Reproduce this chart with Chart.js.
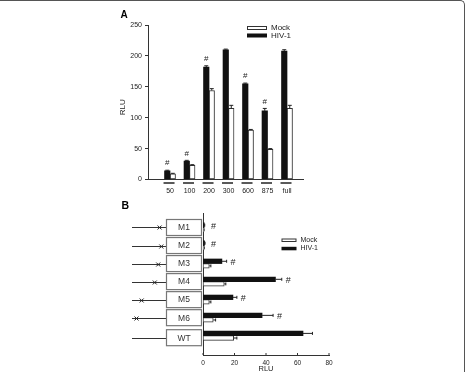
<!DOCTYPE html>
<html><head><meta charset="utf-8">
<script src="https://cdn.jsdelivr.net/npm/chart.js@4/dist/chart.umd.min.js"></script>
<style>
html,body{margin:0;padding:0;background:#fff;}
#wrap{position:relative;width:466px;height:372px;overflow:hidden;background:#fff;}
canvas{position:absolute;left:0;top:0;}
#frame{position:absolute;left:-10px;top:0;right:1px;height:400px;border-top:1.5px solid #555;border-right:1.5px solid #555;border-top-right-radius:5px;}
</style></head><body>
<div id="wrap"><canvas id="a" width="466" height="372"></canvas><canvas id="b" width="466" height="372"></canvas><div id="frame"></div></div>
<script>
// ---- Panel A data ----
const doseLabels = ['50', '100', '200', '300', '600', '875', 'full'];
const hivA = [14, 30, 182, 210, 155, 111, 208];
const hivErrA = [1, 1, 2, 1, 1, 4, 2];
const mockA = [9, 23, 144, 115, 80, 49, 115];
const mockErrA = [1, 1, 3, 5, 1, 1, 5];
const sigA = ['#', '#', '#', '', '#', '#', ''];
const yTicksA = [0, 50, 100, 150, 200, 250];

// ---- Panel B data ----
const constructs = ['M1', 'M2', 'M3', 'M4', 'M5', 'M6', 'WT'];
const hivB = [0.8, 1, 12, 46, 19, 37.5, 63.5];
const hivErrB = [0.3, 0.3, 3, 4, 2.5, 7, 6];
const mockB = [0.5, 0.6, 4, 13.5, 4, 6.5, 19.5];
const mockErrB = [0.2, 0.2, 1, 1, 1, 1.5, 2];
const sigB = ['#', '#', '#', '#', '#', '#', ''];
const mutationSite = [0.8, 0.85, 0.76, 0.66, 0.28, 0.13, null]; // fraction along upstream line
const xTicksB = [0, 20, 40, 60, 80];
const seriesNames = ['HIV-1', 'Mock'];

const FONT = "'Liberation Sans', Arial, Helvetica, sans-serif";
const INK = '#111';
const TXT = '#222';

function legend(ctx, x, y, w, h, gap, size) {
  ctx.font = size + 'px ' + FONT;
  ctx.textBaseline = 'middle';
  ctx.textAlign = 'left';
  // Mock (white)
  ctx.fillStyle = '#fff'; ctx.strokeStyle = '#333'; ctx.lineWidth = 1;
  ctx.fillRect(x, y, w, h); ctx.strokeRect(x + 0.5, y + 0.5, w - 1, h - 1);
  ctx.fillStyle = TXT; ctx.fillText(seriesNames[1], x + w + 4, y + h / 2);
  // HIV-1 (black)
  ctx.fillStyle = INK; ctx.fillRect(x, y + gap, w, h);
  ctx.fillStyle = TXT; ctx.fillText(seriesNames[0], x + w + 4, y + gap + h / 2);
}

const annotA = {
  id: 'annotA',
  afterDatasetsDraw(chart) {
    const {ctx, scales: {x, y}, chartArea: ca} = chart;
    const mH = chart.getDatasetMeta(0), mM = chart.getDatasetMeta(1);
    ctx.save();
    ctx.strokeStyle = '#222'; ctx.lineWidth = 1;
    const vErr = (bx, v, e) => {
      const y0 = y.getPixelForValue(v), y1 = y.getPixelForValue(v + e);
      ctx.beginPath();
      ctx.moveTo(bx, y0); ctx.lineTo(bx, y1);
      ctx.moveTo(bx - 2, y1); ctx.lineTo(bx + 2, y1);
      ctx.stroke();
    };
    hivA.forEach((v, i) => vErr(mH.data[i].x, v, hivErrA[i]));
    mockA.forEach((v, i) => vErr(mM.data[i].x, v, mockErrA[i]));
    // group underline dashes
    ctx.lineWidth = 1.5; ctx.strokeStyle = '#222';
    doseLabels.forEach((_, i) => {
      const cx = x.getPixelForValue(i) - 1;
      ctx.beginPath(); ctx.moveTo(cx - 5.5, ca.bottom + 3.5); ctx.lineTo(cx + 5.5, ca.bottom + 3.5); ctx.stroke();
    });
    // significance marks
    ctx.fillStyle = TXT; ctx.font = '8px ' + FONT; ctx.textAlign = 'center'; ctx.textBaseline = 'middle';
    sigA.forEach((s, i) => {
      if (!s) return;
      ctx.fillText(s, mH.data[i].x, y.getPixelForValue(hivA[i] + hivErrA[i]) - 7);
    });
    // legend
    legend(ctx, ca.left + 99, ca.top + 1, 20, 4, 7.5, 8);
    // axis title
    ctx.save();
    ctx.translate(ca.left - 25.5, (ca.top + ca.bottom) / 2 + 5);
    ctx.rotate(-Math.PI / 2);
    ctx.fillStyle = TXT; ctx.font = '8px ' + FONT; ctx.textAlign = 'center'; ctx.textBaseline = 'middle';
    ctx.fillText('RLU', 0, 0);
    ctx.restore();
    // panel label
    ctx.fillStyle = '#000'; ctx.font = 'bold 10px ' + FONT; ctx.textAlign = 'left'; ctx.textBaseline = 'alphabetic';
    ctx.fillText('A', ca.left - 27.5, ca.top - 7.5);
    ctx.restore();
  }
};

new Chart(document.getElementById('a'), {
  type: 'bar',
  data: {
    datasets: [
      {label: seriesNames[0], data: hivA.map((v, i) => ({x: i, y: v})), backgroundColor: INK, borderWidth: 0, barThickness: 5.5},
      {label: seriesNames[1], data: mockA.map((v, i) => ({x: i, y: v})), backgroundColor: '#fff', borderColor: '#333', borderWidth: 1, borderSkipped: false, barThickness: 5.5}
    ]
  },
  options: {
    responsive: false, animation: false, devicePixelRatio: 1,
    layout: {padding: {left: 100, right: 163, top: 25, bottom: 172.5}},
    plugins: {legend: {display: false}, tooltip: {enabled: false}},
    scales: {
      x: {
        type: 'linear', offset: false, min: -1.13, max: 6.82,
        afterBuildTicks: s => { s.ticks = doseLabels.map((_, i) => ({value: i})); },
        afterFit: s => { s.height = 20; },
        grid: {display: false, drawTicks: false},
        border: {display: true, color: '#333', width: 1},
        ticks: {callback: v => doseLabels[v], font: {family: FONT, size: 7}, color: TXT, padding: 7, maxRotation: 0, autoSkip: false}
      },
      y: {
        min: 0, max: 250,
        afterBuildTicks: s => { s.ticks = yTicksA.map(v => ({value: v})); },
        afterFit: s => { s.width = 48; },
        grid: {drawOnChartArea: false, color: '#333', tickLength: 3},
        border: {display: true, color: '#333', width: 1},
        ticks: {font: {family: FONT, size: 7}, color: TXT, padding: 3}
      }
    }
  },
  plugins: [annotA]
});

const annotB = {
  id: 'annotB',
  afterDatasetsDraw(chart) {
    const {ctx, scales: {x, y}, chartArea: ca} = chart;
    const mH = chart.getDatasetMeta(0), mM = chart.getDatasetMeta(1);
    ctx.save();
    ctx.strokeStyle = '#222'; ctx.lineWidth = 1;
    const hErr = (by, v, e) => {
      const x0 = x.getPixelForValue(v), x1 = x.getPixelForValue(v + e);
      ctx.beginPath();
      ctx.moveTo(x0, by); ctx.lineTo(x1, by);
      ctx.moveTo(x1, by - 1.5); ctx.lineTo(x1, by + 1.5);
      ctx.stroke();
    };
    hivB.forEach((v, i) => hErr(mH.data[i].y, v, hivErrB[i]));
    mockB.forEach((v, i) => hErr(mM.data[i].y, v, mockErrB[i]));
    // inward x ticks
    ctx.strokeStyle = '#333';
    xTicksB.forEach(t => {
      const px = x.getPixelForValue(t);
      ctx.beginPath(); ctx.moveTo(px, ca.bottom); ctx.lineTo(px, ca.bottom - 2); ctx.stroke();
    });
    // significance marks
    ctx.fillStyle = TXT; ctx.font = '9px ' + FONT; ctx.textAlign = 'center'; ctx.textBaseline = 'middle';
    sigB.forEach((s, i) => {
      if (!s) return;
      const xe = Math.max(x.getPixelForValue(hivB[i] + hivErrB[i]), ca.left + 4);
      ctx.fillText(s, xe + 6.5, mH.data[i].y + 1);
    });
    // construct diagrams
    constructs.forEach((name, i) => {
      const cy = y.getPixelForValue(i) + (i === constructs.length - 1 ? 2 : 0);
      const bx0 = ca.left - 36.5, bx1 = ca.left - 1.5;
      const lx0 = ca.left - 71;
      ctx.strokeStyle = '#333'; ctx.lineWidth = 1;
      ctx.beginPath(); ctx.moveTo(lx0, Math.round(cy) + 0.5); ctx.lineTo(bx0, Math.round(cy) + 0.5); ctx.stroke();
      ctx.fillStyle = '#fff'; ctx.strokeStyle = '#777'; ctx.lineWidth = 1.2;
      ctx.fillRect(bx0, cy - 8, bx1 - bx0, 16);
      ctx.strokeRect(bx0, cy - 8, bx1 - bx0, 16);
      ctx.fillStyle = '#333'; ctx.font = '8.5px ' + FONT; ctx.textAlign = 'center'; ctx.textBaseline = 'middle';
      ctx.fillText(name, (bx0 + bx1) / 2, cy + 0.5);
      const m = mutationSite[i];
      if (m !== null) {
        const mx = lx0 + m * (bx0 - lx0), my = Math.round(cy) + 0.5;
        ctx.strokeStyle = '#222'; ctx.lineWidth = 1;
        ctx.beginPath();
        ctx.moveTo(mx - 2, my - 2); ctx.lineTo(mx + 2, my + 2);
        ctx.moveTo(mx - 2, my + 2); ctx.lineTo(mx + 2, my - 2);
        ctx.stroke();
      }
    });
    // legend
    legend(ctx, ca.left + 78.5, ca.top + 25.5, 15, 3.5, 8.3, 7);
    // axis title
    ctx.fillStyle = TXT; ctx.font = '7.5px ' + FONT; ctx.textAlign = 'center'; ctx.textBaseline = 'middle';
    ctx.fillText('RLU', (ca.left + ca.right) / 2, ca.bottom + 14);
    // panel label
    ctx.fillStyle = '#000'; ctx.font = 'bold 10.5px ' + FONT; ctx.textAlign = 'left'; ctx.textBaseline = 'alphabetic';
    ctx.fillText('B', ca.left - 81.5, ca.top - 4.5);
    ctx.restore();
  }
};

new Chart(document.getElementById('b'), {
  type: 'bar',
  data: {
    datasets: [
      {label: seriesNames[0], data: hivB.map((v, i) => ({y: i, x: v})), backgroundColor: INK, borderWidth: 0, barThickness: 4.6},
      {label: seriesNames[1], data: mockB.map((v, i) => ({y: i, x: v})), backgroundColor: '#fff', borderColor: '#333', borderWidth: 1, borderSkipped: false, barThickness: 4.6}
    ]
  },
  options: {
    indexAxis: 'y',
    responsive: false, animation: false, devicePixelRatio: 1,
    layout: {padding: {left: 203, right: 137, top: 213, bottom: 0}},
    plugins: {legend: {display: false}, tooltip: {enabled: false}},
    scales: {
      y: {
        type: 'linear', offset: false, reverse: true, min: -0.804, max: 7.07,
        afterFit: s => { s.width = 0; },
        grid: {display: false, drawTicks: false},
        border: {display: true, color: '#333', width: 1},
        ticks: {display: false}
      },
      x: {
        min: 0, max: 80,
        afterBuildTicks: s => { s.ticks = xTicksB.map(v => ({value: v})); },
        afterFit: s => { s.height = 17; },
        grid: {display: false, drawTicks: false},
        border: {display: true, color: '#333', width: 1},
        ticks: {font: {family: FONT, size: 6.5}, color: TXT, padding: 4, maxRotation: 0}
      }
    }
  },
  plugins: [annotB]
});
</script>
</body></html>
